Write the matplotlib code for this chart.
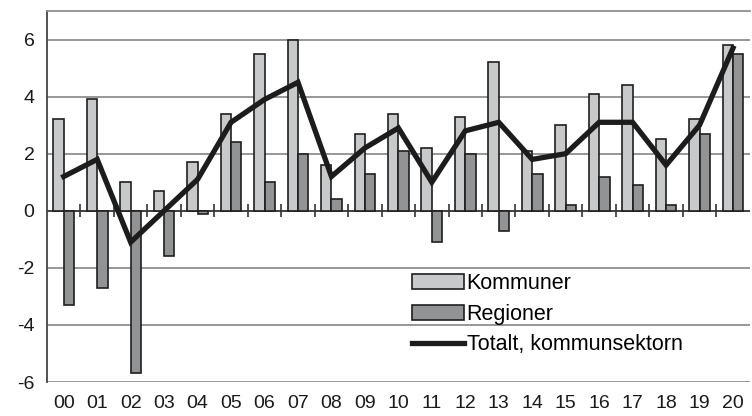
import matplotlib
matplotlib.use("Agg")
import matplotlib.pyplot as plt
import numpy as np

years = ["00", "01", "02", "03", "04", "05", "06", "07", "08", "09", "10",
         "11", "12", "13", "14", "15", "16", "17", "18", "19", "20"]
kommuner = [3.2, 3.9, 1.0, 0.7, 1.7, 3.4, 5.5, 6.0, 1.6, 2.7, 3.4,
            2.2, 3.3, 5.2, 2.1, 3.0, 4.1, 4.4, 2.5, 3.2, 5.8]
regioner = [-3.3, -2.7, -5.7, -1.6, -0.1, 2.4, 1.0, 2.0, 0.4, 1.3, 2.1,
            -1.1, 2.0, -0.7, 1.3, 0.2, 1.2, 0.9, 0.2, 2.7, 5.5]
totalt = [1.2, 1.8, -1.1, 0.0, 1.1, 3.1, 3.9, 4.5, 1.2, 2.2, 2.9,
          1.0, 2.8, 3.1, 1.8, 2.0, 3.1, 3.1, 1.6, 3.0, 5.7]
yticks = [-6, -4, -2, 0, 2, 4, 6]

plt.rcParams['font.family'] = ['Liberation Sans', 'DejaVu Sans']

fig = plt.figure(figsize=(7.52, 4.16), dpi=100)
ax = fig.add_axes([0.0625, 0.0817, 0.9345, 0.8919])

x = np.arange(len(years))
w = 0.31
b1 = ax.bar(x - w / 2, kommuner, width=w, color="#c8c9ca", edgecolor="#1f1f1f",
            linewidth=1.2, label="Kommuner", zorder=3)
b2 = ax.bar(x + w / 2, regioner, width=w, color="#929395", edgecolor="#1f1f1f",
            linewidth=1.2, label="Regioner", zorder=3)
l1, = ax.plot(x, totalt, color="#1c1c1c", linewidth=3.8, solid_joinstyle="miter",
              label="Totalt, kommunsektorn", zorder=4)

ax.set_xlim(-0.5, len(years) - 0.5)
ax.set_ylim(-6, 7)
ax.set_yticks(yticks)
ax.set_yticklabels([str(v) for v in yticks])
ax.set_xticks(x)
ax.set_xticklabels(years)
ax.tick_params(axis="both", length=0, labelsize=14, colors="#1a1a1a")
ax.tick_params(axis="x", pad=9)
ax.tick_params(axis="y", pad=9)

for v in yticks:
    if v != 0:
        ax.axhline(v, color="#8f8f8f", linewidth=1.3, zorder=1)
ax.axhline(0, color="#333333", linewidth=1.3, zorder=2)
ax.vlines(x[1:] - 0.5, -0.22, 0.22, color="#333333", linewidth=1.2, zorder=2)

for s in ["right", "bottom"]:
    ax.spines[s].set_visible(False)
ax.spines["top"].set_color("#8f8f8f")
ax.spines["top"].set_linewidth(1.3)
ax.spines["left"].set_color("#444444")
ax.spines["left"].set_linewidth(1.3)

leg = ax.legend(handles=[b1, b2, l1], loc="upper left",
                bbox_to_anchor=(0.52, 0.293), frameon=False,
                fontsize=15.5, handlelength=2.4, handleheight=0.7,
                handletextpad=0.12, labelspacing=0.44, borderaxespad=0,
                borderpad=0)

fig.savefig("out.png", dpi=100)
